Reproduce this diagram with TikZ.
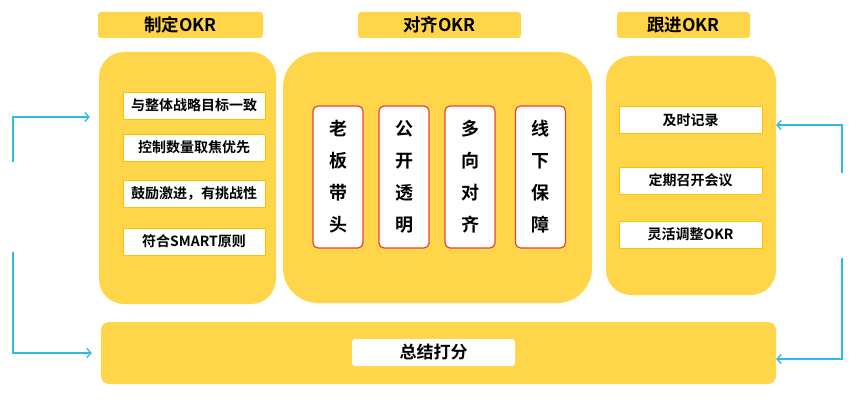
\documentclass[tikz,border=0pt]{standalone}
\usepackage{fontspec}
\newfontfamily\cjk{Noto Sans CJK SC}[BoldFont={Noto Sans CJK SC Bold}]
\usepackage{tikz}
\usepackage{xcolor}
\usetikzlibrary{arrows.meta}
\definecolor{okryellow}{HTML}{FFD64A}
\definecolor{okrgold}{HTML}{FFC000}
\definecolor{okrred}{HTML}{E8413A}
\definecolor{okrblue}{HTML}{2CBBE2}

\begin{document}
\begin{tikzpicture}[x=1pt,y=-1pt,
    panel/.style={fill=okryellow,rounded corners=25pt,inner sep=0pt},
    title/.style={fill=okryellow,rounded corners=3pt,minimum width=#1,minimum height=26pt,font=\cjk\bfseries\fontsize{17.5}{20}\selectfont},
    item/.style={fill=white,draw=okrgold,line width=0.8pt,minimum width=142pt,minimum height=27pt,inner sep=0pt,font=\cjk\bfseries\fontsize{14}{16}\selectfont},
    vbox/.style={fill=white,draw=okrred,line width=1.2pt,rounded corners=5pt,minimum width=50pt,minimum height=142pt,align=center,font=\cjk\bfseries\fontsize{18}{32}\selectfont},
    flow/.style={-{Straight Barb[length=4pt,width=9pt]},okrblue,line width=1.3pt}]
            \useasboundingbox (0,0) rectangle (863,409);
            \node[title=165pt] (t1) at (180.5,25) {制定OKR};
            \node[title=163pt] (t2) at (439.5,25) {对齐OKR};
            \node[title=133pt] (t3) at (683.5,25) {跟进OKR};
            \node[panel,minimum width=177pt,minimum height=252pt] (left) at (187.5,178) {};
            \node[panel,rounded corners=35pt,minimum width=309pt,minimum height=251pt] (mid) at (437.5,177.5) {};
            \node[panel,minimum width=170pt,minimum height=239pt] (right) at (691,175.5) {};
            \node[panel,rounded corners=8pt,minimum width=675pt,minimum height=62pt] (sum) at (438.5,353) {};
            \foreach \y/\t [count=\i] in {105.5/与整体战略目标一致,147.5/控制数量取焦优先,194/{鼓励激进，有挑战性},241.5/符合SMART原则}
                \node[item] (l\i) at (194,\y) {\t};
            \foreach \x/\t [count=\i] in {338/{老\\板\\带\\头},404/{公\\开\\透\\明},470/{多\\向\\对\\齐},540.5/{线\\下\\保\\障}}
                \node[vbox] (m\i) at (\x,177) {\t};
            \foreach \y/\t [count=\i] in {120/及时记录,180.5/定期召开会议,234.5/灵活调整OKR}
                \node[item,minimum width=143pt] (r\i) at (690.5,\y) {\t};
            \node[item,draw=none,rounded corners=3pt,minimum width=163pt,font=\cjk\bfseries\fontsize{17}{20}\selectfont] (s1) at (433.5,352.5) {总结打分};
            \coordinate (la) at (13,162);
            \coordinate (lb) at (13,117);
            \coordinate (lc) at (13,252);
            \coordinate (ld) at (13,353);
            \coordinate (ra) at (842,173);
            \coordinate (rb) at (842,125);
            \coordinate (rc) at (842,258);
            \coordinate (rd) at (842,359);
            \draw[flow,shorten >=9pt] (la) -- (lb) -- (left.west |- lb);
            \draw[flow,shorten >=9pt] (lc) -- (ld) -- (sum.west |- ld);
            \draw[flow] (ra) -- (rb) -- (right.east |- rb);
            \draw[flow] (rc) -- (rd) -- (sum.east |- rd);
        \end{tikzpicture}
\end{document}
